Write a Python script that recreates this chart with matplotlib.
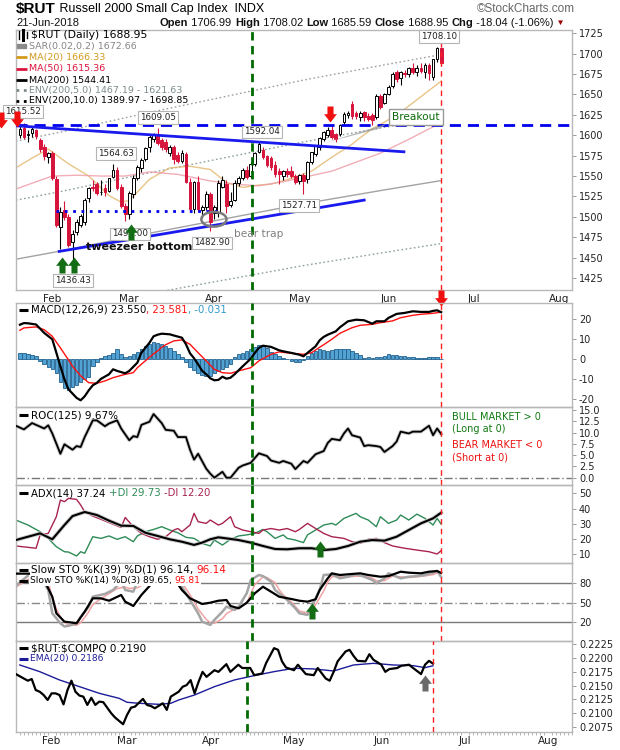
import numpy as np
import pandas as pd
import matplotlib
matplotlib.use('Agg')
import matplotlib.pyplot as plt
from matplotlib.path import Path
from matplotlib.patches import Ellipse, Polygon
from matplotlib.lines import Line2D

plt.rcParams['font.family'] = ['DejaVu Sans']

# trading calendar: Jan 23 2018 .. Jun 21 2018 with data, blank room to August
holidays = ['2018-02-19', '2018-03-30', '2018-05-28', '2018-07-04']
days = pd.bdate_range('2018-01-23', '2018-08-10', freq='C', holidays=holidays)

opens = [1600, 1609, 1600, 1603, 1606, 1594, 1585, 1573, 1578, 1546,
         1487, 1508, 1500, 1469, 1482, 1490, 1494, 1523, 1537, 1540,
         1530, 1535, 1532, 1549, 1558, 1536, 1513, 1504, 1528, 1548,
         1560, 1571, 1585, 1596, 1601, 1594, 1592, 1578, 1586, 1576,
         1569, 1577, 1543, 1510, 1543, 1508, 1512, 1528, 1505, 1505,
         1537, 1540, 1515, 1521, 1541, 1547, 1558, 1550, 1565, 1580,
         1582, 1574, 1572, 1564, 1556, 1550, 1556, 1556, 1550, 1544,
         1551, 1546, 1567, 1577, 1585, 1595, 1600, 1607, 1601, 1601,
         1616, 1625, 1638, 1627, 1622, 1628, 1624, 1625, 1622, 1648,
         1640, 1651, 1660, 1677, 1670, 1676, 1675, 1682, 1677, 1683,
         1678, 1686, 1672, 1693, 1706.99]
highs = [1611, 1615.52, 1606, 1610, 1608, 1597, 1589, 1580, 1581, 1550,
         1512, 1520, 1503, 1484, 1497, 1503, 1523, 1537, 1545, 1543,
         1545, 1540, 1548, 1564.63, 1561, 1540, 1517, 1532, 1551, 1563,
         1572, 1586, 1600, 1603, 1609.05, 1597, 1595, 1588, 1588, 1580,
         1582, 1579, 1548, 1544, 1550, 1515, 1532, 1530, 1515, 1545,
         1550, 1545, 1530, 1545, 1550, 1560, 1562, 1567, 1580, 1592.04,
         1585, 1576, 1574, 1568, 1560, 1558, 1560, 1562, 1552, 1553,
         1554, 1569, 1580, 1588, 1598, 1605, 1610, 1612, 1603, 1614,
         1628, 1630, 1642, 1630, 1630, 1630, 1627, 1627, 1650, 1650,
         1652, 1661, 1677, 1680, 1679, 1680, 1684, 1688, 1686, 1688,
         1688, 1689, 1694, 1708.10, 1708.02]
lows = [1597, 1595, 1592, 1598, 1596, 1580, 1570, 1566, 1545, 1488,
        1460, 1496, 1463, 1436.43, 1478, 1488, 1490, 1518, 1532, 1527,
        1527, 1526, 1530, 1547, 1533, 1511, 1495, 1497, 1523, 1545,
        1555, 1568, 1580, 1592, 1588, 1582, 1580, 1575, 1565, 1566,
        1566, 1541, 1508, 1505, 1507, 1499, 1508, 1482.90, 1497, 1500,
        1535, 1505, 1512, 1519, 1538, 1545, 1546, 1548, 1562, 1578,
        1571, 1561, 1558, 1549, 1540, 1545, 1549, 1548, 1540, 1540,
        1527.71, 1542, 1565, 1575, 1582, 1593, 1598, 1596, 1592, 1599,
        1614, 1621, 1620, 1620, 1618, 1618, 1617, 1613, 1620, 1632,
        1638, 1649, 1658, 1665, 1662, 1672, 1672, 1675, 1673, 1676,
        1670, 1668, 1668, 1690, 1685.59]
closes = [1608, 1598, 1601, 1608, 1599, 1583, 1574, 1578, 1547, 1490,
          1506, 1500, 1465, 1479, 1494, 1501, 1521, 1535, 1535, 1529,
          1531, 1530, 1547, 1558, 1535, 1513, 1504, 1529, 1547, 1561,
          1570, 1584, 1598, 1600, 1591, 1586, 1583, 1585, 1571, 1569,
          1578, 1543, 1509, 1543, 1510, 1512, 1528, 1494, 1512, 1542,
          1545, 1513, 1519, 1542, 1547, 1558, 1549, 1565, 1578, 1589,
          1573, 1563, 1561, 1553, 1552, 1556, 1552, 1550, 1543, 1551,
          1544, 1567, 1579, 1587, 1597, 1604, 1607, 1598, 1595, 1613,
          1626, 1627, 1623, 1623, 1627, 1622, 1620, 1619, 1648, 1635,
          1650, 1659, 1675, 1669, 1677, 1675, 1682, 1678, 1683, 1679,
          1686, 1676, 1693, 1707, 1688.95]

# overlays as (trading day, value)
ma20_pts = [(-1, 1560), (3, 1572), (7, 1583), (12, 1565), (17, 1550), (22, 1526),
            (25, 1518), (27, 1520), (32, 1546), (37, 1560), (42, 1562), (47, 1558),
            (51, 1542), (55, 1536), (59, 1539), (62, 1540), (67, 1547), (72, 1556),
            (77, 1573), (82, 1589), (84, 1597), (87, 1608), (90, 1616), (95, 1632),
            (104, 1666.33)]
ma50_pts = [(-1, 1534), (4, 1543), (8, 1550), (14, 1551), (20, 1550), (26, 1550),
            (32, 1555), (39, 1552), (47, 1544), (53, 1540), (59, 1538), (66, 1544),
            (77, 1556), (89, 1578), (96, 1595), (104, 1615.36)]
ma200_pts = [(-1, 1448), (10, 1458), (30, 1478), (50, 1497), (70, 1516), (90, 1533),
             (104, 1544.41)]

macd_pts = [(0, 17.3), (1, 18.1), (2, 18.0), (4, 17.4), (6, 13.2), (8, 10.0), (9, 3.3),
            (10, -3.5), (11, -10), (12, -15), (14, -19.3), (15, -20.5), (16, -18.5),
            (17, -15.5), (18, -13), (19, -11.8), (20, -9.8), (22, -7.5), (23, -5),
            (24, -5.8), (26, -7), (27, -5.8), (29, -1.7), (30, 3.3), (32, 8.3), (33, 11.5),
            (34, 12.3), (35, 12.8), (37, 12.5), (38, 11.9), (40, 10.8), (41, 7.5), (42, 3.0),
            (43, 0.5), (44, -2.5), (45, -5.8), (46, -7.5), (47, -9.5), (48, -10.5),
            (49, -10.3), (50, -8.7), (51, -9.7), (52, -9.2), (53, -7.5), (54, -5.5),
            (55, -3.5), (57, 0.3), (58, 3.2), (59, 5.7), (60, 6.8), (62, 6.2), (64, 4.5),
            (65, 4.0), (67, 3.2), (69, 2.3), (70, 1.5), (71, 3.2), (73, 6.5), (74, 9.5),
            (75, 11.2), (76, 12.3), (78, 14.0), (79, 16.0), (80, 17.5), (81, 19.0),
            (83, 19.8), (85, 19.5), (87, 17.8), (88, 19.0), (90, 19.0), (91, 20.7),
            (93, 22.7), (95, 23.2), (97, 24.0), (99, 23.7), (101, 23.7), (102, 24.2),
            (103, 24.5), (104, 23.55)]
signal_pts = [(0, 14.5), (1, 15.7), (4, 16.2), (6, 14.8), (8, 11.5), (10, 5.7), (12, -0.3),
              (13, -3.5), (15, -8.3), (17, -11.7), (19, -12), (21, -10.8), (23, -9.2),
              (26, -7.5), (28, -6.7), (29, -4.2), (31, -0.7), (33, 2.7), (34, 4.2), (35, 6.0),
              (36, 7.3), (38, 9.2), (40, 9.7), (42, 7.5), (44, 3.3), (46, -0.8), (48, -5),
              (50, -6.7), (52, -7.0), (54, -5.8), (57, -4.2), (59, -0.8), (62, 2.5), (64, 3.7),
              (67, 3.0), (70, 2.5), (72, 3.3), (74, 6.0), (75, 7.3), (77, 10), (79, 13),
              (82, 15.8), (84, 17), (87, 17.5), (89, 18.3), (92, 19.2), (94, 20.8), (97, 22.0),
              (99, 22.5), (102, 23.0), (104, 23.58)]
macd_hist = [3.0, 3.0, 2.5, 2.0, 1.5, -0.8, -2.5, -3.7, -5.0, -7.0,
             -11.5, -14.5, -15.3, -14.0, -13.0, -11.5, -10.0, -9.0, -3.3, -1.3,
             0.8, 1.7, 2.0, 3.3, 5.0, 2.5, 1.0, 1.5, 2.5, 3.5,
             5.0, 6.5, 7.5, 8.5, 8.3, 7.5, 6.5, 5.5, 4.0, 2.5,
             1.0, -1.5, -4.0, -5.5, -7.0, -8.0, -8.5, -8.3, -7.0, -6.0,
             -5.0, -4.0, -2.5, 1.0, 2.5, 3.3, 4.2, 5.0, 6.0, 7.0,
             7.0, 5.8, 3.7, 2.5, 1.7, 0.8, 0.0, -0.8, -1.3, -1.3,
             -0.5, 1.5, 3.3, 4.2, 5.0, 4.7, 4.2, 4.7, 5.0, 5.3,
             5.3, 5.0, 4.2, 3.0, 2.0, 0.8, 1.3, 0.8, 1.3, 1.3,
             1.7, 2.5, 2.2, 2.0, 1.7, 1.7, 1.3, 1.2, 0.8, 0.8,
             0.8, 1.0, 1.3, 1.0, -0.031]

roc_pts = [(-1, 11.5), (1, 10.7), (3, 12.1), (4, 11.7), (6, 10.9), (7, 11.6), (8, 9.8),
           (10, 5.3), (11, 7.4), (13, 6.2), (14, 7.0), (15, 6.8), (16, 9.0), (18, 12.7),
           (19, 12.7), (21, 11.4), (22, 12.0), (24, 12.7), (25, 10.9), (27, 8.3), (28, 9.2),
           (29, 9.0), (30, 11.7), (32, 12.4), (33, 14.1), (35, 12.1), (36, 10.6), (38, 10.4),
           (39, 9.0), (41, 9.0), (42, 6.2), (43, 4.0), (44, 5.3), (46, 2.0), (47, 0.9),
           (48, 0.0), (50, 1.3), (51, 0.0), (52, 0.0), (54, 2.2), (55, 2.7), (57, 3.3),
           (59, 5.4), (61, 4.8), (62, 3.8), (64, 3.3), (65, 3.7), (67, 3.1), (68, 1.9),
           (70, 3.7), (71, 3.3), (73, 5.2), (75, 5.9), (76, 7.7), (77, 8.6), (79, 8.3),
           (80, 9.8), (81, 10.9), (82, 9.4), (84, 8.9), (85, 7.0), (86, 7.2), (88, 7.0),
           (89, 6.8), (90, 5.7), (92, 7.0), (93, 8.0), (94, 10.2), (96, 9.8), (97, 10.2),
           (99, 10.2), (101, 11.5), (102, 9.4), (103, 10.9), (104, 9.67)]

adx_pts = [(-1, 19.2), (2, 21.4), (5, 23.6), (8, 19.7), (11, 29.1), (13, 35), (16, 37.7),
           (19, 35.7), (22, 32), (25, 28.7), (28, 28.5), (31, 24), (34, 21.9), (37, 19.7),
           (40, 18.1), (43, 16), (45, 17.5), (47, 19.7), (49, 21), (51, 20.3), (54, 19.2),
           (57, 17.5), (60, 15.3), (63, 13.3), (66, 13.1), (69, 13.8), (72, 13.8), (75, 12.6),
           (78, 13.3), (81, 15.3), (84, 18.1), (87, 19.2), (90, 18.8), (93, 21.4), (96, 25.8),
           (99, 30.2), (102, 33.5), (104, 37.24)]
pdi_pts = [(-1, 32.4), (2, 29.1), (5, 24.7), (7, 20.3), (9, 14.8), (11, 11.5), (12, 11.3),
           (14, 8.7), (15, 11.5), (16, 10.5), (18, 21.4), (20, 20.3), (22, 21.9), (24, 19.7),
           (26, 21.4), (28, 18.1), (29, 21.9), (31, 24.7), (33, 26.2), (35, 28), (37, 25.8),
           (39, 24), (41, 21), (43, 20.3), (45, 17), (47, 15.3), (48, 19.2), (50, 15.9),
           (52, 19.7), (54, 21.9), (56, 22.6), (58, 23.6), (60, 26.2), (61, 24.7), (63, 20.3),
           (65, 22.6), (66, 20.3), (68, 19.2), (70, 17.5), (71, 22.6), (73, 25.8), (75, 29.1),
           (77, 30.2), (78, 29.1), (80, 33.5), (81, 34.6), (83, 36.8), (84, 34.6), (86, 32.4),
           (88, 28), (89, 34.6), (91, 30.2), (93, 32.4), (94, 35.7), (96, 32.4), (98, 36.3),
           (100, 33.5), (102, 29.1), (103, 33.5), (104, 29.73)]
mdi_pts = [(-1, 15.3), (2, 14.4), (4, 13.8), (5, 22.6), (7, 23.6), (9, 34.6), (10, 45.6),
           (11, 44.5), (12, 46.7), (14, 46), (15, 42.3), (16, 37.9), (18, 35), (20, 32.9),
           (22, 30.7), (25, 27.5), (26, 34.1), (28, 28), (30, 23.6), (32, 21.4), (34, 19.7),
           (36, 21.4), (38, 25.8), (39, 26.8), (40, 24.7), (42, 29.1), (43, 36.8), (44, 31.3),
           (46, 30.2), (47, 32.4), (49, 29.1), (50, 30.2), (52, 34.6), (53, 28), (55, 25.8),
           (57, 24.7), (59, 23.6), (60, 25.8), (62, 26.8), (64, 25.8), (66, 26.8), (68, 24.7),
           (69, 26.2), (71, 30.2), (73, 26.8), (75, 23.6), (77, 21.4), (80, 20.3), (82, 18.1),
           (84, 17), (86, 19.7), (88, 20.3), (90, 17.5), (92, 15.3), (95, 13.8), (98, 12.6),
           (101, 11.5), (103, 10), (104, 12.2)]

sto39_pts = [(-1, 95), (3, 95), (5, 92), (6, 85.1), (8, 59.2), (9, 33.5), (11, 20.5),
             (13, 18.9), (14, 18), (16, 36), (18, 56.7), (20, 56.7), (22, 53), (25, 61.9),
             (26, 51.5), (28, 44.8), (30, 61.9), (32, 75.8), (34, 90), (36, 92), (38, 88),
             (40, 69.6), (42, 56.7), (45, 47.9), (47, 49.9), (49, 53), (51, 54.1), (52, 44.8),
             (54, 41.2), (56, 49.9), (58, 64.5), (60, 74.7), (62, 67), (64, 59.2), (67, 55.7),
             (69, 53), (71, 51.5), (73, 55.2), (74, 69.6), (76, 87.7), (77, 95.5), (79, 92.9),
             (82, 94.5), (84, 95.5), (86, 92.9), (89, 90.2), (91, 91.2), (94, 98), (96, 96.5),
             (99, 95.5), (101, 98), (103, 99), (104, 96.14)]
sto14k_pts = [(-1, 75.8), (2, 92), (5, 90), (7, 69.6), (8, 33.5), (10, 18), (11, 13),
              (12, 14), (14, 18), (15, 28), (17, 43.8), (18, 59.2), (21, 63.5), (23, 69.6),
              (25, 82.6), (26, 69.6), (28, 67), (29, 82.6), (31, 90.2), (34, 96), (37, 94),
              (40, 74.7), (42, 54.1), (44, 33.5), (45, 20.5), (47, 15.4), (48, 23.1), (50, 36),
              (51, 43.8), (53, 38.6), (54, 43.8), (56, 64.5), (57, 85.1), (59, 92.9),
              (60, 91.2), (62, 82.6), (63, 69.6), (65, 59.2), (66, 54.1), (68, 41.2),
              (69, 33.5), (71, 31), (72, 43.8), (74, 69.6), (75, 92.9), (77, 93.9), (79, 87.7),
              (81, 90.2), (83, 93.9), (85, 90.2), (87, 85.1), (88, 80), (90, 87.7), (91, 95.5),
              (93, 90.2), (94, 87.7), (96, 90.2), (98, 91.2), (100, 92.9), (102, 96.5),
              (103, 99.5), (104, 89.65)]
sto14d_pts = [(-1, 74), (2, 86), (5, 92), (7, 82), (8, 58), (9, 40), (10, 28), (11, 20),
              (12, 15), (14, 15), (15, 19), (16, 27), (17, 36), (18, 47), (20, 56), (22, 64),
              (24, 72), (26, 74), (27, 72), (29, 73), (31, 80), (33, 88), (36, 95), (39, 88),
              (41, 72), (43, 52), (44, 40), (46, 24), (47, 19), (48, 18), (50, 25), (51, 33),
              (53, 40), (54, 41), (56, 49), (57, 64), (58, 78), (60, 90), (61, 89), (63, 81),
              (64, 70), (65, 62), (67, 51), (68, 44), (69, 37), (71, 34), (72, 36), (73, 47),
              (75, 68), (76, 82), (77, 90), (79, 91), (81, 90), (83, 91), (85, 91), (87, 88),
              (88, 84), (90, 84), (91, 88), (92, 91), (94, 90), (96, 89), (98, 90),
              (100, 91.5), (102, 93.5), (103, 96), (104, 95.81)]

ratio_pts = [(-1, 0.2171), (1, 0.2163), (2, 0.2159), (3, 0.2162), (4, 0.2142), (5, 0.2139),
             (6, 0.2133), (7, 0.2124), (8, 0.2136), (9, 0.2136), (10, 0.2133), (11, 0.2116),
             (12, 0.2142), (13, 0.2159), (14, 0.2139), (15, 0.2132), (16, 0.2130),
             (17, 0.2115), (18, 0.2128), (19, 0.2115), (20, 0.2121), (21, 0.2120),
             (22, 0.2110), (23, 0.2100), (24, 0.2092), (26, 0.2080), (27, 0.2097),
             (28, 0.2110), (29, 0.2112), (31, 0.2126), (32, 0.2115), (33, 0.2113),
             (34, 0.2109), (36, 0.2118), (37, 0.2106), (38, 0.2130), (40, 0.2139),
             (41, 0.2148), (42, 0.2151), (43, 0.2160), (44, 0.2136), (45, 0.2157),
             (46, 0.2175), (47, 0.2166), (49, 0.2178), (50, 0.2175), (52, 0.2189),
             (53, 0.2175), (55, 0.2188), (56, 0.2182), (58, 0.2182), (59, 0.2169),
             (61, 0.2172), (62, 0.2191), (64, 0.2218), (65, 0.2215), (66, 0.2194),
             (67, 0.2183), (69, 0.2178), (70, 0.2188), (72, 0.2171), (74, 0.2169),
             (75, 0.2182), (77, 0.2163), (78, 0.2159), (79, 0.2175), (80, 0.2194),
             (82, 0.2212), (83, 0.2215), (84, 0.2204), (85, 0.2195), (87, 0.2194),
             (88, 0.2207), (89, 0.2197), (91, 0.2188), (92, 0.2175), (93, 0.2180),
             (95, 0.2182), (96, 0.2186), (98, 0.2188), (99, 0.2182), (101, 0.2171),
             (102, 0.2188), (103, 0.2195), (104, 0.2190)]
ratio_ema_pts = [(0, 0.21875), (5, 0.21754), (10, 0.21603), (15, 0.21482), (20, 0.21361),
                 (25, 0.21270), (27, 0.21198), (30, 0.21180), (35, 0.21161), (38, 0.21180),
                 (40, 0.21240), (44, 0.21331), (49, 0.21482), (54, 0.21603), (59, 0.21682),
                 (64, 0.21754), (69, 0.21815), (74, 0.21803), (79, 0.21766), (84, 0.21875),
                 (89, 0.21905), (94, 0.21875), (99, 0.21863), (102, 0.21827), (104, 0.2186)]

# price call-outs on the main panel: (day, level shown, text)
price_tags = [(0.8, 1629, '1615.52'), (34.1, 1622, '1609.05'), (23.7, 1578, '1564.63'),
              (59.8, 1604, '1592.04'), (68.9, 1513.5, '1527.71'), (47.4, 1468, '1482.90'),
              (13.2, 1421.5, '1436.43'), (27.2, 1479, '1495.00'), (103.5, 1721, '1708.10')]

W, H = 620, 750
fig = plt.figure(figsize=(W / 100, H / 100), dpi=100)
fig.patch.set_facecolor('white')
XLIM = (-0.96, 136.3)


def pts(p):
    d, v = zip(*p)
    return np.array(d, float), np.array(v, float)


def panel(top, bottom, ylim, ticks, fmt):
    ax = fig.add_axes([16 / W, 1 - bottom / H, (572 - 16) / W, (bottom - top) / H])
    ax.set_facecolor('none')
    ax.set_xlim(*XLIM)
    ax.set_ylim(*ylim)
    ax.yaxis.tick_right()
    ax.set_yticks(ticks)
    ax.set_yticklabels([fmt.format(t) for t in ticks])
    ax.tick_params(axis='y', labelsize=7, length=3, width=0.6, color='#8a8a8a', pad=2,
                   labelcolor='#222222')
    ax.tick_params(axis='x', bottom=False, labelbottom=False)
    for sp in ax.spines.values():
        sp.set_color('#b8b8b8')
        sp.set_linewidth(1)
    return ax


def arrow_marker(up, hw=0.4, sw=0.19):
    v = [(-sw, 0.5), (sw, 0.5), (sw, 0.02), (hw, 0.02), (0, -0.5), (-hw, 0.02), (-sw, 0.02), (-sw, 0.5)]
    if up:
        v = [(a, -b) for a, b in v]
    return Path(v, closed=True)


def block_arrow(ax, x, y, up, color, size=11.5, hw=0.4):
    ax.plot([x], [y], linestyle='none', marker=arrow_marker(up, hw), markersize=size,
            color=color, markeredgewidth=0, clip_on=False, zorder=12)


def key(x0, x1, y, color, ls='-', lw=2.2):
    fig.add_artist(Line2D([x0 / W, x1 / W], [1 - y / H] * 2, color=color, lw=lw, ls=ls,
                          transform=fig.transFigure, solid_capstyle='butt'))


def text_chain(ax, x, y, pieces, family='DejaVu Sans', bg=False):
    box = dict(fc='white', ec='none', pad=0.5) if bg else None
    s, c, w, size = pieces[0]
    t = ax.text(x / W, 1 - y / H, s, transform=fig.transFigure, color=c, fontweight=w,
                fontsize=size, family=family, va='center', ha='left', bbox=box, zorder=9)
    for s, c, w, size in pieces[1:]:
        t = ax.annotate(s, xy=(1, 0.5), xycoords=t, va='center', ha='left', color=c,
                        fontweight=w, fontsize=size, family=family, bbox=box,
                        annotation_clip=False, zorder=9)
    return t


ax_main = panel(30, 290, (1410.3, 1729), list(range(1425, 1726, 25)), '{:d}')
ax_macd = panel(303, 407, (-23.85, 28.15), [-20, -10, 0, 10, 20], '{:d}')
ax_roc = panel(407, 485, (-1.62, 15.66), list(np.arange(0, 15.1, 2.5)), '{:.1f}')
ax_adx = panel(485, 563, (4.07, 55.5), [10, 20, 30, 40, 50], '{:d}')
ax_sto = panel(563, 641, (-9.5, 111.5), [20, 50, 80], '{:d}')
ax_rat = panel(641, 732, (0.20659, 0.2231), list(np.arange(0.2075, 0.22251, 0.0025)), '{:.4f}')

# month labels
month_first = [i for i in range(1, len(days)) if days[i].month != days[i - 1].month]
month_names = [days[i].strftime('%b') for i in month_first]
for ax in (ax_main, ax_rat):
    ax.set_xticks([i + 1 for i in month_first])
    ax.set_xticklabels(month_names)
    ax.tick_params(axis='x', bottom=True, labelbottom=True, length=0, labelsize=7.5, pad=3,
                   labelcolor='#222222')
ax_rat.set_xticks(range(len(days)), minor=True)
ax_rat.tick_params(axis='x', which='minor', bottom=True, length=2, color='#aaaaaa')

# ---- main price panel
n = len(closes)
x = np.arange(n)
o, hi, lo, c = map(np.array, (opens, highs, lows, closes))
up = c >= o
red = '#d7143c'
edge = np.where(up, 'black', red)
ax_main.vlines(x, lo, hi, colors=edge, lw=0.8, zorder=4)
ax_main.bar(x, np.maximum(np.abs(c - o), 0.8), bottom=np.minimum(o, c), width=0.68,
            color=np.where(up, 'white', red), edgecolor=edge, linewidth=0.7, zorder=5)

d, v = pts(ma200_pts)
ax_main.plot(d, v, color='#a3a3a3', lw=1, zorder=2)
for k, col in ((1.05, '#8fa0a0'), (0.95, '#8fa0a0'), (1.10, '#a0a0a0')):
    ax_main.plot(d, v * k, color=col, lw=1, ls=(0, (1.2, 1.8)), zorder=2)
d, v = pts(ma20_pts)
ax_main.plot(d, v, color='#e3b66a', lw=1, alpha=0.8, zorder=2)
d, v = pts(ma50_pts)
ax_main.plot(d, v, color='#ee9aa5', lw=1, alpha=0.8, zorder=2)

# drawn trend lines
ax_main.axhline(1612.4, color='#0000ee', lw=2, ls=(0, (4, 2.5)), zorder=6)
ax_main.plot([-0.96, 94.8], [1611.6, 1579.7], color='#1a1aee', lw=2, zorder=6)
ax_main.plot([9.7, 85], [1457.6, 1520.5], color='#1a1aee', lw=2, zorder=6)
ax_main.plot([8.9, 49.9], [1507.4, 1507.4], color='#0000ee', lw=2, ls=(0, (1, 2)), zorder=6)
ax_main.add_patch(Ellipse((47.9, 1497), 6.2, 18, fill=False, ec='#7a7a7a', lw=1.8, zorder=7))
ax_main.add_patch(Polygon([(90.5, 1614), (75.5, 1591), (89, 1608.5)], closed=True,
                          fc='#9c9c9c', ec='none', alpha=0.75, zorder=6))

for tx, ty, s in price_tags:
    ax_main.text(tx, ty, s, fontsize=6.3, ha='center', va='center', color='#222222', zorder=8,
                 bbox=dict(boxstyle='square,pad=0.22', fc='white', ec='#b5b5b5', lw=0.8))
ax_main.text(91.8, 1622.5, 'Breakout', fontsize=7.6, color='#0a6a0a', ha='left', va='center',
             zorder=8, bbox=dict(boxstyle='square,pad=0.3', fc='white', ec='#9a9a9a', lw=1))
ax_main.text(16.3, 1462.8, 'tweezeer bottom', fontsize=8, fontweight='bold', color='#111111',
             ha='left', va='center', zorder=8)
ax_main.text(52.9, 1479, 'bear trap', fontsize=7.6, color='#808080', ha='left', va='center',
             zorder=8)

# arrows
green = '#146c14'
for ax_, xa, ya, up_, col in ((ax_main, -0.6, 1620, False, '#f01010'),
                              (ax_main, -4.7, 1619, False, '#f01010'),
                              (ax_main, 76.6, 1626, False, '#f01010'),
                              (ax_main, 104, 1401, False, '#f01010'),
                              (ax_main, 10.3, 1441, True, green),
                              (ax_main, 13.4, 1441, True, green),
                              (ax_main, 27.5, 1482, True, green),
                              (ax_adx, 74.1, 13.5, True, green),
                              (ax_sto, 72.1, 37.4, True, green),
                              (ax_rat, 102, 0.21557, True, '#6a6a6a')):
    block_arrow(ax_, xa, ya, up_, col)

# ---- MACD
ax_macd.bar(x, macd_hist, width=0.86, color='#52a2d4', edgecolor='#22628f', linewidth=0.6,
            zorder=2)
d, v = pts(signal_pts)
ax_macd.plot(d, v, color='#ff1010', lw=1, zorder=3)
d, v = pts(macd_pts)
ax_macd.plot(d, v, color='black', lw=1.6, zorder=4)

# ---- ROC
ax_roc.axhline(0, color='#777777', lw=1, ls=(0, (6, 2, 1, 2)))
d, v = pts(roc_pts)
ax_roc.plot(d, v, color='#c8c8c8', lw=2.6, zorder=2)
ax_roc.plot(d, v, color='black', lw=1.3, zorder=3)
for yy, s, col in ((416.7, 'BULL MARKET > 0', '#127a12'), (429.3, '(Long at 0)', '#127a12'),
                   (445, 'BEAR MARKET < 0', '#ee1111'), (458, '(Short at 0)', '#ee1111')):
    ax_roc.text(452 / W, 1 - yy / H, s, transform=fig.transFigure, fontsize=7, color=col,
                va='center', ha='left')

# ---- ADX
d, v = pts(pdi_pts)
ax_adx.plot(d, v, color='#2e8b57', lw=1, zorder=2)
d, v = pts(mdi_pts)
ax_adx.plot(d, v, color='#a8244f', lw=1, zorder=2)
d, v = pts(adx_pts)
ax_adx.plot(d, v, color='#c8c8c8', lw=2.8, zorder=3)
ax_adx.plot(d, v, color='black', lw=1.5, zorder=4)

# ---- slow stochastics
for lvl in (80, 20):
    ax_sto.axhline(lvl, color='#7a7a7a', lw=1, zorder=1)
ax_sto.axhline(50, color='#8a8a8a', lw=1, ls=(0, (6, 2, 1, 2)), zorder=1)
d, v = pts(sto14d_pts)
ax_sto.plot(d, v, color='#f2a3a3', lw=1.1, zorder=2)
d, v = pts(sto14k_pts)
ax_sto.plot(d, v, color='#a5a5a5', lw=1.8, zorder=2)
d, v = pts(sto39_pts)
ax_sto.plot(d, v, color='black', lw=1.6, zorder=3)

# ---- ratio
d, v = pts(ratio_ema_pts)
ax_rat.plot(d, v, color='#1c1c9a', lw=1, zorder=2)
d, v = pts(ratio_pts)
ax_rat.plot(d, v, color='black', lw=1.6, zorder=3)

# annotation verticals
for ax in (ax_main, ax_macd, ax_roc, ax_adx, ax_sto, ax_rat):
    ax.axvline(57.2, color='#006a00', lw=2, ls=(0, (3, 2)), zorder=7)
    if ax is ax_main:
        ax.plot([104, 104], [1410.3, 1713], color='#ff2020', lw=1, ls=(0, (4, 3)), zorder=7)
    else:
        ax.axvline(104, color='#ff2020', lw=1, ls=(0, (4, 3)), zorder=7)

# ---- legends
fig.add_artist(Line2D([19 / W, 19 / W], [1 - 31 / H, 1 - 39 / H], color='black', lw=1,
                      transform=fig.transFigure))
fig.add_artist(Line2D([23 / W, 23 / W], [1 - 30 / H, 1 - 40 / H], color='black', lw=2.2,
                      transform=fig.transFigure))
fig.add_artist(Line2D([27 / W, 27 / W], [1 - 32 / H, 1 - 38 / H], color='black', lw=1,
                      transform=fig.transFigure))
text_chain(ax_main, 31, 34.5, [('$RUT (Daily) 1688.95', 'black', 'normal', 7.8)])
fig.add_artist(Line2D([18.5 / W, 23.5 / W], [1 - 46 / H] * 2, color='#8a8a8a', lw=0,
                      marker='s', markersize=2.2, transform=fig.transFigure))
main_leg = [('SAR(0.02,0.2) 1672.66', '#868686', 46, None),
            ('MA(20) 1666.33', '#d49a1c', 57.3, '-'),
            ('MA(50) 1615.36', '#dc143c', 68.7, '-'),
            ('MA(200) 1544.41', 'black', 80, '-'),
            ('ENV(200,5.0) 1467.19 - 1621.63', '#7d8c8c', 90, ':'),
            ('ENV(200,10.0) 1389.97 - 1698.85', 'black', 100.7, ':')]
for s, col, yy, ls in main_leg:
    if ls:
        key(16, 27, yy, col, ls=ls, lw=2)
    text_chain(ax_main, 29, yy, [(s, col, 'normal', 6.8)])

key(19, 28, 310, 'black')
text_chain(ax_macd, 31, 310, [('MACD(12,26,9) 23.550', 'black', 'normal', 7.3),
                              (', 23.581', '#ff1010', 'normal', 7.3),
                              (', -0.031', '#3399cc', 'normal', 7.3)])
key(19, 28, 415, 'black')
text_chain(ax_roc, 31, 415, [('ROC(125) 9.67%', 'black', 'normal', 7.5)])
key(19, 28, 493, 'black')
text_chain(ax_adx, 31, 493, [('ADX(14) 37.24 ', 'black', 'normal', 7.3),
                             ('+DI 29.73 ', '#2e8b57', 'normal', 7.3),
                             ('-DI 12.20', '#a8244f', 'normal', 7.3)])
key(19, 28, 570, 'black')
text_chain(ax_sto, 31, 570, [('Slow STO %K(39) %D(1) 96.14, ', 'black', 'normal', 7.5),
                             ('96.14', '#ff1010', 'normal', 7.5)], bg=True)
key(19, 28, 580.7, 'black')
text_chain(ax_sto, 30, 580.7, [('Slow STO %K(14) %D(3) 89.65, ', 'black', 'normal', 6.6),
                               ('95.81', '#ff1010', 'normal', 6.6)], bg=True)
key(19, 28, 648.3, 'black')
text_chain(ax_rat, 31, 648.3, [('\\$RUT:\\$COMPQ 0.2190', 'black', 'normal', 7.5)])
key(19, 28, 659, '#1c1c9a')
text_chain(ax_rat, 30, 659, [('EMA(20) 0.2186', '#1c1c9a', 'normal', 6.6)])

# ---- header
narrow = ['Liberation Sans Narrow', 'Liberation Sans', 'DejaVu Sans']
hdr = ['Liberation Sans', 'DejaVu Sans']
text_chain(ax_main, 16, 9, [('$RUT', 'black', 'bold', 11),
                            (' Russell 2000 Small Cap Index ', 'black', 'normal', 9),
                            (' INDX', 'black', 'normal', 9)], family=narrow)
fig.text(575 / W, 1 - 9 / H, '\u00a9StockCharts.com', ha='right', va='center',
         color='#666666', fontsize=8.5, family=hdr)
fig.text(16 / W, 1 - 23 / H, '21-Jun-2018', ha='left', va='center', color='#111111',
         fontsize=8, family=hdr)
text_chain(ax_main, 160, 23, [('Open', '#111111', 'bold', 8), (' 1706.99 ', '#111111', 'normal', 8),
                              ('High', '#111111', 'bold', 8), (' 1708.02 ', '#111111', 'normal', 8),
                              ('Low', '#111111', 'bold', 8), (' 1685.59 ', '#111111', 'normal', 8),
                              ('Close', '#111111', 'bold', 8), (' 1688.95 ', '#111111', 'normal', 8),
                              ('Chg', '#111111', 'bold', 8),
                              (' -18.04 (-1.06%)', '#111111', 'normal', 8),
                              (' \u25bc', '#990000', 'normal', 6)], family=hdr)

fig.savefig('out.png', dpi=100, facecolor='white')
